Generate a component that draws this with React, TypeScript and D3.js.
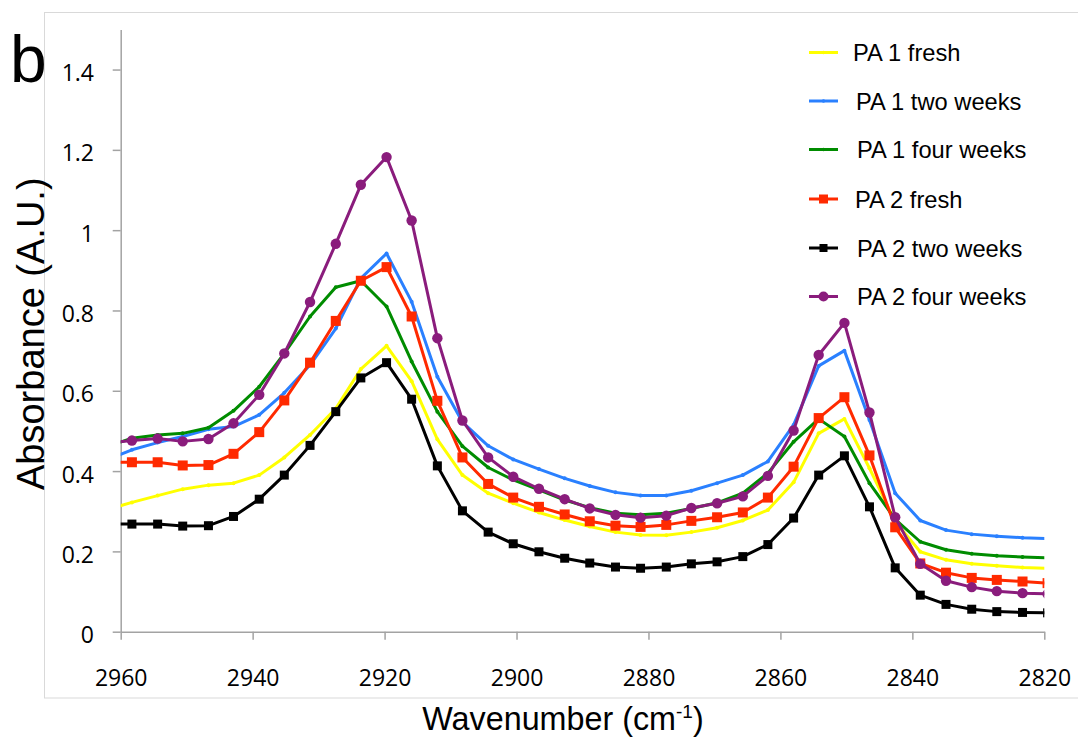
import React, { useEffect, useRef } from 'react';
import * as d3 from 'd3';

// wavenumber of each data point (cm-1); first and last lie just outside the axis range
const wavenumbers = [
  2962.2, 2958.3, 2954.4, 2950.6, 2946.7, 2942.9, 2939.0, 2935.2, 2931.3, 2927.4,
  2923.6, 2919.7, 2915.9, 2912.0, 2908.2, 2904.3, 2900.5, 2896.6, 2892.7, 2888.9,
  2885.0, 2881.2, 2877.3, 2873.5, 2869.6, 2865.7, 2861.9, 2858.0, 2854.2, 2850.3,
  2846.5, 2842.6, 2838.8, 2834.9, 2831.0, 2827.2, 2823.3, 2819.5,
];

const pa1Fresh = [
  0.303, 0.322, 0.339, 0.355, 0.365, 0.370, 0.390, 0.434, 0.490, 0.556,
  0.654, 0.712, 0.624, 0.479, 0.390, 0.345, 0.320, 0.297, 0.278, 0.262,
  0.248, 0.241, 0.240, 0.248, 0.259, 0.277, 0.303, 0.372, 0.494, 0.530,
  0.407, 0.274, 0.199, 0.179, 0.169, 0.164, 0.160, 0.158,
];

const pa1TwoWeeks = [
  0.427, 0.453, 0.471, 0.486, 0.504, 0.511, 0.540, 0.595, 0.664, 0.755,
  0.880, 0.942, 0.822, 0.635, 0.522, 0.463, 0.429, 0.405, 0.382, 0.363,
  0.347, 0.339, 0.339, 0.351, 0.370, 0.390, 0.424, 0.515, 0.662, 0.700,
  0.527, 0.345, 0.277, 0.253, 0.243, 0.238, 0.234, 0.232,
];

const pa1FourWeeks = [
  0.460, 0.482, 0.490, 0.494, 0.508, 0.550, 0.610, 0.693, 0.785, 0.858,
  0.874, 0.810, 0.673, 0.548, 0.462, 0.409, 0.378, 0.353, 0.328, 0.309,
  0.295, 0.291, 0.295, 0.307, 0.321, 0.345, 0.395, 0.473, 0.530, 0.486,
  0.370, 0.280, 0.224, 0.204, 0.194, 0.189, 0.186, 0.184,
];

const pa2Fresh = [
  0.422, 0.422, 0.422, 0.414, 0.415, 0.443, 0.497, 0.576, 0.670, 0.774,
  0.874, 0.908, 0.785, 0.575, 0.434, 0.368, 0.334, 0.311, 0.292, 0.275,
  0.264, 0.261, 0.266, 0.276, 0.285, 0.297, 0.334, 0.411, 0.532, 0.584,
  0.439, 0.260, 0.170, 0.147, 0.134, 0.129, 0.125, 0.121,
];

const pa2TwoWeeks = [
  0.268, 0.268, 0.268, 0.263, 0.264, 0.287, 0.330, 0.390, 0.464, 0.548,
  0.632, 0.670, 0.579, 0.413, 0.301, 0.248, 0.219, 0.199, 0.183, 0.171,
  0.161, 0.158, 0.161, 0.169, 0.174, 0.187, 0.217, 0.283, 0.390, 0.438,
  0.311, 0.159, 0.091, 0.068, 0.056, 0.050, 0.048, 0.047,
];

const pa2FourWeeks = [
  0.470, 0.476, 0.481, 0.474, 0.480, 0.519, 0.590, 0.693, 0.821, 0.966,
  1.113, 1.182, 1.024, 0.731, 0.526, 0.434, 0.386, 0.356, 0.330, 0.307,
  0.291, 0.284, 0.289, 0.308, 0.320, 0.337, 0.388, 0.501, 0.689, 0.769,
  0.546, 0.285, 0.169, 0.127, 0.111, 0.101, 0.096, 0.094,
];

const seriesNames = [
  'PA 1 fresh',
  'PA 1 two weeks',
  'PA 1 four weeks',
  'PA 2 fresh',
  'PA 2 two weeks',
  'PA 2 four weeks',
];
const seriesValues = [pa1Fresh, pa1TwoWeeks, pa1FourWeeks, pa2Fresh, pa2TwoWeeks, pa2FourWeeks];

const xTicks = [2960, 2940, 2920, 2900, 2880, 2860, 2840, 2820];
const yTicks = [0, 0.2, 0.4, 0.6, 0.8, 1, 1.2, 1.4];

type MarkerKind = 'dot' | 'square' | 'circle';
const styles: { color: string; marker: MarkerKind; size: number }[] = [
  { color: '#ffff00', marker: 'dot', size: 2 },
  { color: '#2a80ff', marker: 'dot', size: 2 },
  { color: '#008c00', marker: 'dot', size: 2 },
  { color: '#ff2a00', marker: 'square', size: 10 },
  { color: '#000000', marker: 'square', size: 9 },
  { color: '#8a1c7c', marker: 'circle', size: 5.2 },
];

const W = 1078;
const H = 741;
const plot = { left: 120.7, right: 1044.3, top: 29.4, bottom: 631.7 };
const tickFont = '"Open Sans", sans-serif';
const textFont = '"Liberation Sans", Arial, sans-serif';
const axisColor = '#a3a3a3';

function drawMarker(g: d3.Selection<SVGGElement, unknown, null, undefined>, kind: MarkerKind, x: number, y: number, size: number, color: string) {
  if (kind === 'square') {
    g.append('rect')
      .attr('x', x - size / 2).attr('y', y - size / 2)
      .attr('width', size).attr('height', size)
      .attr('fill', color);
  } else {
    g.append('circle').attr('cx', x).attr('cy', y).attr('r', size).attr('fill', color);
  }
}

const App: React.FC = () => {
  const svgRef = useRef<SVGSVGElement | null>(null);

  useEffect(() => {
    if (!svgRef.current) return;
    const svg = d3.select(svgRef.current);
    svg.selectAll('*').remove();

    const x = d3.scaleLinear().domain([2960, 2820]).range([plot.left, plot.right]);
    const y = d3.scaleLinear().domain([0, 1.5]).range([plot.bottom, plot.top]);

    // chart frame
    svg.append('rect')
      .attr('x', 44.5).attr('y', 12.5)
      .attr('width', W + 20).attr('height', 698 - 12.5)
      .attr('fill', 'none').attr('stroke', '#d9d9d9').attr('stroke-width', 1);

    svg.append('defs').append('clipPath').attr('id', 'plot-clip')
      .append('rect')
      .attr('x', plot.left).attr('y', plot.top - 10)
      .attr('width', plot.right - plot.left).attr('height', plot.bottom - plot.top + 10);

    // axes
    const xAxis = svg.append('g')
      .attr('transform', `translate(0,${plot.bottom})`)
      .call(d3.axisBottom(x).tickValues(xTicks).tickSize(8).tickSizeOuter(0).tickPadding(30).tickFormat(d => String(d)));
    const yAxis = svg.append('g')
      .attr('transform', `translate(${plot.left},0)`)
      .call(d3.axisLeft(y).tickValues(yTicks).tickSize(8).tickSizeOuter(0).tickPadding(18.7).tickFormat(d => String(d)));

    [xAxis, yAxis].forEach(ax => {
      ax.select('.domain').attr('stroke', axisColor).attr('stroke-width', 1.5);
      ax.selectAll('.tick line').attr('stroke', axisColor).attr('stroke-width', 1.5);
      ax.selectAll('.tick text')
        .attr('fill', '#000')
        .style('font-family', tickFont)
        .style('font-size', '23px');
    });
    yAxis.selectAll('.tick text').attr('dy', '0.48em');

    // series
    const layer = svg.append('g').attr('clip-path', 'url(#plot-clip)');
    const line = d3.line<number>()
      .x((_, i) => x(wavenumbers[i]))
      .y(d => y(d));

    seriesValues.forEach((vals, s) => {
      const st = styles[s];
      layer.append('path')
        .datum(vals)
        .attr('fill', 'none')
        .attr('stroke', st.color)
        .attr('stroke-width', 3)
        .attr('stroke-linejoin', 'round')
        .attr('d', line);
      const mg = layer.append('g');
      vals.forEach((v, i) => drawMarker(mg, st.marker, x(wavenumbers[i]), y(v), st.size, st.color));
    });

    // legend
    const legendRows = [52.5, 101, 149.5, 199, 248, 296.5];
    const textX = [853, 856, 857, 855, 857, 857];
    const legend = svg.append('g');
    seriesNames.forEach((name, s) => {
      const st = styles[s];
      const ly = legendRows[s];
      legend.append('line')
        .attr('x1', 809).attr('x2', 838).attr('y1', ly).attr('y2', ly)
        .attr('stroke', st.color).attr('stroke-width', 3);
      const lg = legend.append('g');
      drawMarker(lg, st.marker, 823.5, ly, st.marker === 'dot' ? 1.8 : st.marker === 'circle' ? 5 : st.size - 1, st.color);
      legend.append('text')
        .attr('x', textX[s]).attr('y', ly + 8.5)
        .style('font-family', textFont)
        .style('font-size', '23.7px')
        .attr('fill', '#000')
        .text(name);
    });

    // titles
    svg.append('text')
      .attr('x', 10).attr('y', 82)
      .style('font-family', textFont).style('font-size', '66px')
      .text('b');

    svg.append('text')
      .attr('transform', 'translate(44,490) rotate(-90)')
      .attr('text-anchor', 'start')
      .style('font-family', textFont).style('font-size', '38px')
      .text('Absorbance (A.U.)');

    const xt = svg.append('text')
      .attr('x', 563).attr('y', 730)
      .attr('text-anchor', 'middle')
      .style('font-family', textFont).style('font-size', '32.3px');
    xt.append('tspan').text('Wavenumber (cm');
    xt.append('tspan').attr('dy', -12).style('font-size', '19px').text('-1');
    xt.append('tspan').attr('dy', 12).text(')');
  }, []);

  return (
    <div style={{ position: 'absolute', left: 0, top: 0 }}>
      <svg ref={svgRef} width={W} height={H} style={{ display: 'block', background: '#fff' }} />
    </div>
  );
};

export default App;
